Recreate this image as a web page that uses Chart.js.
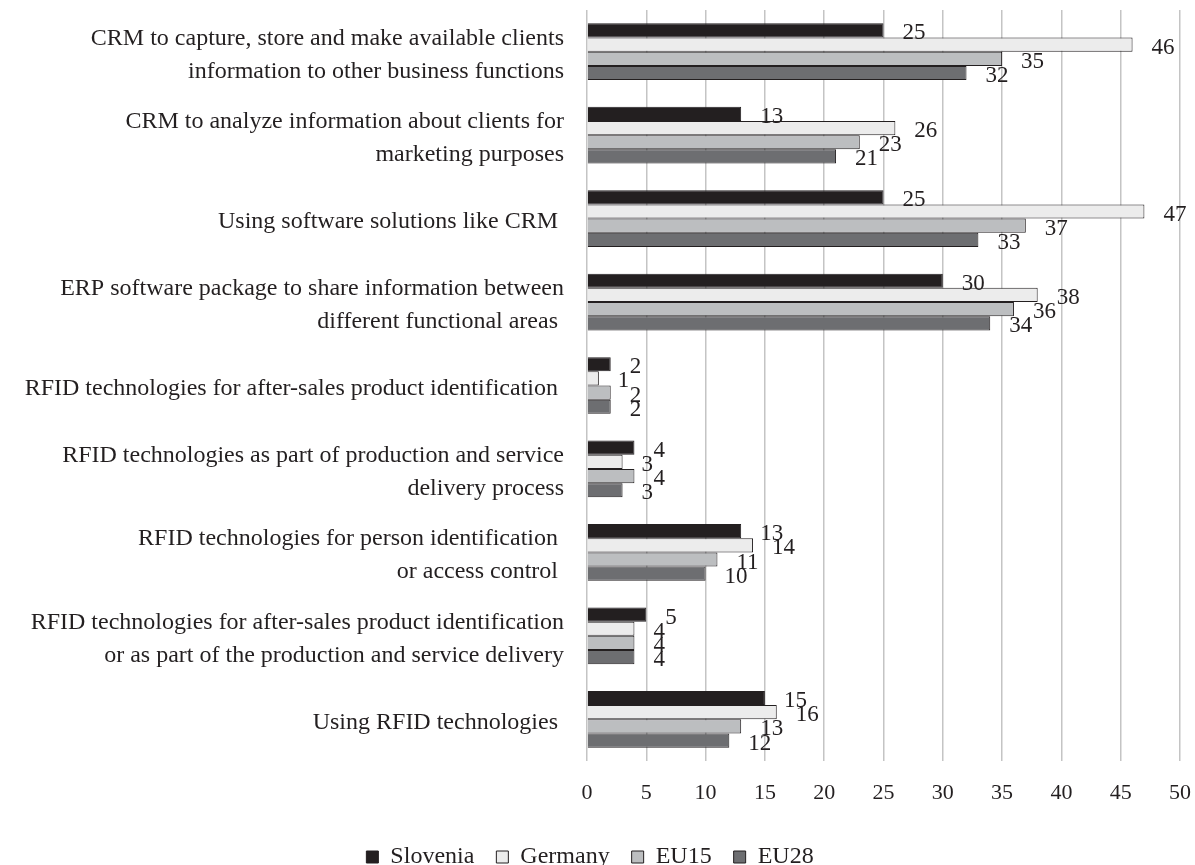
<!DOCTYPE html>
<html>
<head>
<meta charset="utf-8">
<title>CRM, ERP and RFID use</title>
<script src="https://cdn.jsdelivr.net/npm/chart.js@4"></script>
<style>
    html, body { margin: 0; padding: 0; background: #ffffff; }
    #contenedor { width: 1195px; height: 865px; position: relative; }
</style>
</head>
<body>
<div id="contenedor"><canvas id="grafico"></canvas></div>
<script>
const categorias = [
    ['CRM to capture, store and make available clients', 'information to other business functions'],
    ['CRM to analyze information about clients for', 'marketing purposes'],
    'Using software solutions like CRM ',
    ['ERP software package to share information between', 'different functional areas '],
    'RFID technologies for after-sales product identification ',
    ['RFID technologies as part of production and service', 'delivery process'],
    ['RFID technologies for person identification ', 'or access control '],
    ['RFID technologies for after-sales product identification', 'or as part of the production and service delivery'],
    'Using RFID technologies '
];

const series = ['Slovenia', 'Germany', 'EU15', 'EU28'];

const valoresSlovenia = [25, 13, 25, 30, 2, 4, 13, 5, 15];
const valoresGermany = [46, 26, 47, 38, 1, 3, 14, 4, 16];
const valoresEU15 = [35, 23, 37, 36, 2, 4, 11, 4, 13];
const valoresEU28 = [32, 21, 33, 34, 2, 3, 10, 4, 12];

const ticksX = [0, 5, 10, 15, 20, 25, 30, 35, 40, 45, 50];

const colores = ['#231f20', '#ececec', '#bcbec0', '#6d6e71'];
const tinta = '#231f20';
const fuente = '"Liberation Serif", "DejaVu Serif", serif';

/**
 * Writes the value of every bar just right of its end.
 */
const etiquetasValor = {
    id: 'etiquetasValor',
    afterDatasetsDraw(chart) {
        const ctx = chart.ctx;
        ctx.save();
        ctx.font = '23px ' + fuente;
        ctx.fillStyle = tinta;
        ctx.textAlign = 'left';
        ctx.textBaseline = 'middle';
        chart.data.datasets.forEach((dataset, i) => {
            const meta = chart.getDatasetMeta(i);
            meta.data.forEach((barra, j) => {
                ctx.fillText(String(dataset.data[j]), barra.x + 19, barra.y + 3);
            });
        });
        ctx.restore();
    }
};

const datasets = [valoresSlovenia, valoresGermany, valoresEU15, valoresEU28].map((valores, i) => ({
    label: series[i],
    data: valores,
    backgroundColor: colores[i],
    borderColor: tinta,
    borderWidth: 1,
    categoryPercentage: 0.68,
    barPercentage: 1.0
}));

new Chart(document.getElementById('grafico'), {
    type: 'bar',
    data: {
        labels: categorias,
        datasets: datasets
    },
    options: {
        indexAxis: 'y',
        responsive: true,
        maintainAspectRatio: false,
        animation: false,
        layout: {
            padding: { top: 10, right: 15, bottom: -14, left: 0 }
        },
        scales: {
            x: {
                min: ticksX[0],
                max: ticksX[ticksX.length - 1],
                afterBuildTicks: (escala) => {
                    escala.ticks = ticksX.map(v => ({ value: v }));
                },
                afterFit: (escala) => {
                    escala.height = 62;
                    escala.paddingLeft = 0;
                    escala.paddingRight = 0;
                },
                grid: {
                    color: '#c4c4c4',
                    lineWidth: 1.5,
                    drawTicks: false
                },
                border: { display: false },
                ticks: {
                    color: tinta,
                    padding: 19,
                    font: { family: fuente, size: 22 }
                }
            },
            y: {
                afterFit: (escala) => {
                    escala.width = 587;
                    escala.paddingTop = 0;
                    escala.paddingBottom = 0;
                },
                grid: { display: false, drawTicks: false },
                border: { display: false },
                ticks: {
                    color: tinta,
                    padding: 23,
                    labelOffset: 3,
                    font: { family: fuente, size: 24, lineHeight: 1.375 }
                }
            }
        },
        plugins: {
            legend: {
                position: 'bottom',
                labels: {
                    color: tinta,
                    boxWidth: 12,
                    boxHeight: 12,
                    padding: 22,
                    font: { family: fuente, size: 24 }
                }
            },
            tooltip: { enabled: false }
        }
    },
    plugins: [etiquetasValor]
});
</script>
</body>
</html>
